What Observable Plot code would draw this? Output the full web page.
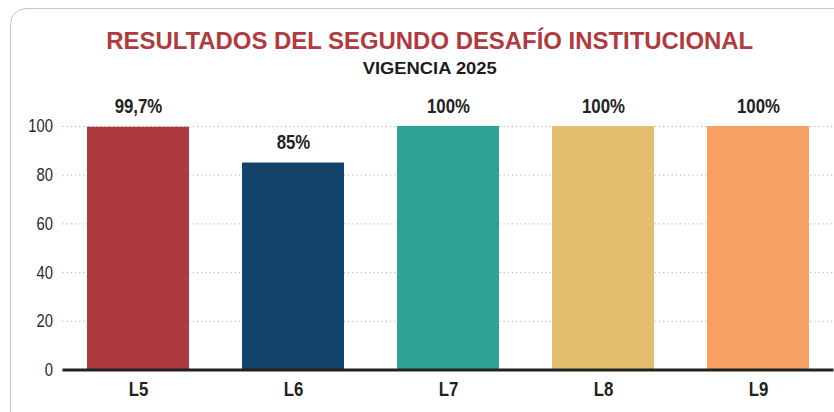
<!DOCTYPE html>
<html>
<head>
<meta charset="utf-8">
<script src="https://cdn.jsdelivr.net/npm/d3@7"></script>
<script src="https://cdn.jsdelivr.net/npm/@observablehq/plot@0.6"></script>
<style>
  html, body { margin: 0; padding: 0; background: #fff; width: 834px; height: 412px; overflow: hidden; }
  body { font-family: "Liberation Sans", Arial, sans-serif; position: relative; }
  #card { position: absolute; left: 10px; top: 8px; width: 900px; height: 440px; border: 1.5px solid #c6c6c6; border-radius: 16px; box-sizing: border-box; }
  .head { position: absolute; left: 0; width: 860px; text-align: center; font-weight: bold; white-space: nowrap; }
  .head span { display: inline-block; transform-origin: 50% 50%; }
  #title { top: 28.5px; color: #AF3B40; font-size: 24.6px; line-height: 24.6px; }
  #subtitle { top: 59.5px; color: #1c1c1c; font-size: 17.2px; line-height: 17.2px; }
  #chart { position: absolute; left: 0; top: 80px; }
</style>
</head>
<body>
<div id="card"></div>
<div id="title" class="head"><span>RESULTADOS DEL SEGUNDO DESAFÍO INSTITUCIONAL</span></div>
<div id="subtitle" class="head"><span>VIGENCIA 2025</span></div>
<div id="chart"></div>
<script>
const categories = ["L5", "L6", "L7", "L8", "L9"];
const values = [99.7, 85, 100, 100, 100];
const valueLabels = ["99,7%", "85%", "100%", "100%", "100%"];
const colors = ["#AD3A3F", "#12446B", "#2EA393", "#E2BE6D", "#F7A064"];
const yTicks = [0, 20, 40, 60, 80, 100];

const data = categories.map((c, i) => ({ cat: c, value: values[i], label: valueLabels[i], color: colors[i] }));

// Narrow-font look: horizontally condense header text to the reference widths
function fitHead(id, centerX, targetWidth) {
  const el = document.getElementById(id);
  const span = el.querySelector("span");
  const w = span.getBoundingClientRect().width;
  el.style.left = (centerX - 430) + "px";
  span.style.transform = `scaleX(${targetWidth / w})`;
}
fitHead("title", 429.5, 647);
fitHead("subtitle", 429.7, 134);

const chart = Plot.plot({
  width: 834,
  height: 332,
  marginLeft: 62.5,
  marginRight: 0.5,
  marginTop: 46,
  marginBottom: 42.5,
  style: { fontFamily: '"Liberation Sans", Arial, sans-serif', background: "transparent" },
  x: { domain: categories, paddingInner: 0.34, paddingOuter: 0.153, label: null, axis: null },
  y: { domain: [0, 100], ticks: yTicks, label: null, axis: null },
  marks: [
    Plot.gridY(yTicks.filter(d => d > 0), { stroke: "#b0b0b0", strokeOpacity: 1, strokeDasharray: "1.2,3", strokeWidth: 1 }),
    Plot.barY(data, { x: "cat", y: "value", fill: "color" }),
    Plot.ruleY([0], { stroke: "#222", strokeWidth: 2.8 }),
    Plot.axisY(yTicks, { tickSize: 0, tickPadding: 10, fontSize: 18.5, fill: "#2a2a2a", label: null }),
    Plot.axisX(categories, { tickSize: 0, tickPadding: 11, fontSize: 21, fontWeight: "bold", fill: "#222", label: null }),
    Plot.text(data, { x: "cat", y: "value", text: "label", dy: -20.5, fontSize: 21, fontWeight: "bold", fill: "#222" })
  ]
});
document.getElementById("chart").appendChild(chart);

// Condense SVG text horizontally about its anchor (Arial Narrow look)
chart.querySelectorAll("text").forEach(t => {
  const tr = t.getAttribute("transform");
  if (tr) {
    t.setAttribute("transform", tr + " scale(0.8,1)");
  } else {
    const x = +(t.getAttribute("x") || 0);
    t.setAttribute("x", x / 0.8);
    t.setAttribute("transform", "scale(0.8,1)");
  }
});
</script>
</body>
</html>
